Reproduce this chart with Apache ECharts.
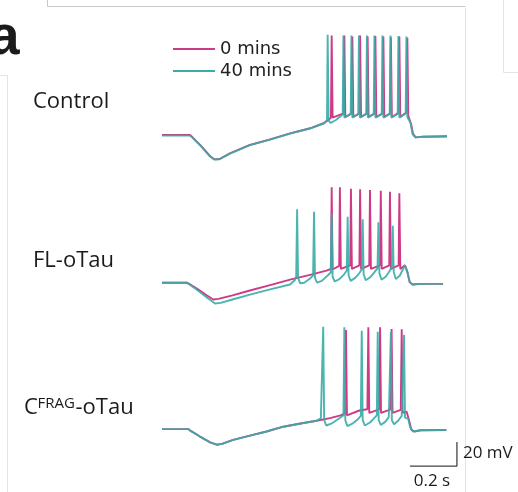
<!DOCTYPE html>
<html><head><meta charset="utf-8">
<script src="https://cdn.jsdelivr.net/npm/echarts@6/dist/echarts.min.js"></script>
<style>html,body{margin:0;padding:0;background:#fff}#c{width:518px;height:492px}</style>
</head><body><div id="c"></div>
<script>
// ---- data (time in ms, membrane potential in mV) ----
const seriesNames = ['0 mins', '40 mins'];
const panelNames = ['Control', 'FL-oTau'];
const fragParts = ['C', 'FRAG', '-oTau'];
const scaleLabels = ['20 mV', '0.2 s'];
const scaleBar = [[1055, -96.3], [1255, -96.3], [1255, -76.3]];

const ctrl0 = [[0,-65],[119,-65],[128,-66.5],[162,-73.3],[204,-82.5],[222,-85.3],[245,-85],[289,-80.3],[374,-73.3],[460,-68.6],[545,-63.6],[630,-59.4],[690,-55],[708,-52.5],[719,-50.5],
[722,18],[726,-50.5],[734,-49.5],[773,-47],
[776,18],[780,-50],[788,-49],[807,-47],
[810,17],[814,-50],[821,-49],[840,-47],
[843,18],[847,-50],[854,-49],[872,-47],
[875,17],[879,-50],[886,-49],[905,-47],
[908,17.5],[912,-50],[919,-49],[939,-47],
[942,17],[946,-50],[953,-49],[971,-47],
[974,16.5],[978,-50],[985,-49],[1007,-46.5],
[1010,17],[1014,-50],[1021,-48.5],[1041,-46],
[1044,16],[1048,-49],[1053,-48],[1060,-56],[1068,-64],[1080,-67],[1110,-66.5],[1213,-66]];

const ctrl40 = [[0,-65.5],[119,-65.5],[128,-67],[162,-73.5],[204,-82.8],[222,-85.5],[245,-85.2],[289,-80.5],[374,-73.5],[460,-68.8],[545,-63.8],[630,-59.6],[690,-55.2],[702,-52.5],
[705,18.5],[709,-53],[718,-55],[740,-52.5],[769,-48],
[772,18],[776,-50.5],[784,-49.5],[803,-47.5],
[806,18],[810,-50.5],[818,-49.5],[835,-47.5],
[838,18],[842,-50.5],[850,-49.5],[869,-47.5],
[872,18],[876,-50.5],[884,-49.5],[901,-47.5],
[904,18],[908,-50.5],[916,-49.5],[935,-47.5],
[938,18],[942,-50.5],[950,-49.5],[969,-47.5],
[972,18],[976,-50.5],[984,-49.5],[1003,-47.5],
[1006,17.5],[1010,-50.5],[1018,-49.5],[1037,-47],
[1040,17],[1044,-50],[1051,-48.5],[1058,-55],[1066,-64],[1078,-67],[1110,-66.5],[1213,-66.3]];

const fl0 = [[0,-65],[105,-65],[115,-66],[150,-70],[190,-75.5],[218,-79],[240,-78.5],[300,-75.5],[374,-71.5],[460,-67],[545,-62.5],[630,-58.5],[700,-55],[719,-53.5],
[722,14.5],[726,-54],[734,-53],[754,-51],
[757,14.5],[761,-53.5],[769,-52.5],[801,-50.5],
[804,13.3],[808,-53.5],[816,-52.5],[840,-50.5],
[843,12.8],[847,-53.5],[855,-52.5],[882,-50.5],
[885,12.3],[889,-53.5],[897,-52.5],[928,-50.5],
[931,11.7],[935,-53.5],[943,-52.5],[967,-50.5],
[970,10.8],[974,-53.5],[982,-52.5],[1007,-50.5],
[1010,9.5],[1014,-53.5],[1022,-52],[1034,-50.5],[1044,-56],[1054,-64.5],[1066,-66.5],[1100,-66],[1196,-66]];

const fl40 = [[0,-65],[105,-65],[115,-66],[150,-71],[195,-78],[226,-82.3],[250,-81.8],[300,-79],[374,-75],[460,-70.5],[545,-66.5],[565,-63],[571,-60],
[575,-3.8],[579,-61],[588,-65.5],[605,-65],[630,-61.5],[643,-59],
[647,-5.8],[651,-61],[660,-65],[680,-63.5],[705,-59],[718,-56.5],
[722,-7.2],[726,-60],[735,-64],[755,-62],[775,-58],[786,-55],
[790,-10],[794,-59],[803,-63.5],[822,-61],[840,-57],[850,-54],
[854,-12.2],[858,-58],[867,-63],[886,-60.5],[905,-56],[917,-53],
[921,-14.7],[925,-57],[934,-62.5],[952,-60],[968,-55.5],[978,-51.5],
[982,-17.5],[986,-56],[995,-62],[1012,-59],[1025,-54],[1034,-50.5],[1044,-56],[1054,-64.5],[1066,-66.5],[1100,-66],[1196,-66]];

const frag0 = [[0,-65.5],[112,-65.5],[122,-67],[160,-71.5],[205,-76.5],[233,-78.5],[255,-77.8],[303,-74.5],[374,-71],[445,-67.5],[516,-63.5],[590,-60.8],[658,-58.5],[715,-56.3],[760,-54],[779,-52.5],
[783,17],[787,-54],[795,-52.5],[840,-50],[874,-49],
[878,19.3],[882,-52],[890,-51],[924,-49],
[928,19.3],[932,-52],[940,-51],[973,-49],
[977,17.9],[981,-52],[989,-51],[1016,-49.5],
[1020,17.7],[1024,-52],[1032,-51],[1041,-51],[1051,-58],[1061,-66],[1075,-67.5],[1100,-66.5],[1210,-66.2]];

const frag40 = [[0,-65.5],[112,-65.5],[122,-67],[160,-71.5],[205,-76.5],[233,-78.5],[255,-77.8],[303,-74.5],[374,-71],[445,-67.5],[516,-63.5],[590,-60.8],[658,-58.5],[676,-56.5],[683,-55],
[686,19.8],[690,-58],[699,-62.5],[720,-61],[755,-56.5],[772,-54],
[776,19.3],[780,-58],[789,-63],[810,-61],[835,-57],[846,-54.5],
[850,16.5],[854,-58],[863,-62.5],[885,-60],[905,-56],[914,-54],
[918,15.7],[922,-58],[931,-62],[950,-59.5],[965,-55.5],[970,-54],
[974,15.4],[978,-58],[987,-61.5],[1005,-58.5],[1020,-54.5],[1026,-53],
[1030,13],[1034,-56],[1042,-55],[1048,-57],[1056,-64],[1068,-67.5],[1100,-66.5],[1210,-66.2]];

// ---- chart ----
const PINK = '#cf3a87', TEAL = '#38aca6';
const panels = [[ctrl0, ctrl40], [fl0, fl40], [frag0, frag40]];
const gridTops = [9, 156.7, 302.5];
const chart = echarts.init(document.getElementById('c'), null, {renderer: 'canvas'});

const grids = gridTops.map(t => ({left: 162, top: t, width: 296.1, height: 168}));
const xAxes = gridTops.map((t, i) => ({type: 'value', gridIndex: i, min: 0, max: 1260, show: false}));
const yAxes = gridTops.map((t, i) => ({type: 'value', gridIndex: i, min: -100, max: 40, show: false}));
const series = [];
panels.forEach((p, i) => {
  series.push({type: 'line', name: seriesNames[0], xAxisIndex: i, yAxisIndex: i, data: p[0], showSymbol: false, symbol: 'none',
    color: PINK, lineStyle: {color: PINK, width: 1.9}, z: 2});
  series.push({type: 'line', name: seriesNames[1], xAxisIndex: i, yAxisIndex: i, data: p[1], showSymbol: false, symbol: 'none',
    color: TEAL, lineStyle: {color: TEAL, width: 1.9, opacity: 0.9}, z: 3});
});
series.push({type: 'line', name: 'scale', xAxisIndex: 2, yAxisIndex: 2, data: scaleBar, showSymbol: false, symbol: 'none',
  lineStyle: {color: '#444', width: 1.3}, silent: true});

const lineStyleA = {stroke: '#c9c9c9', lineWidth: 1};
const lineStyleB = {stroke: '#e3e3e3', lineWidth: 1};
const txt = (text, x, y, font, align) => ({type: 'text', style: {text, x, y, font, fill: '#1b1b1b', textAlign: align || 'left', textVerticalAlign: 'middle'}});

chart.setOption({
  animation: false,
  backgroundColor: '#fff',
  grid: grids, xAxis: xAxes, yAxis: yAxes, series,
  legend: {data: seriesNames, orient: 'vertical', left: 168, top: 35, icon: 'rect', itemWidth: 42, itemHeight: 2, itemGap: 4,
    selectedMode: false, textStyle: {fontFamily: 'DejaVu Sans', fontSize: 18, color: '#222', lineHeight: 18}},
  graphic: [
    {type: 'line', shape: {x1: 47.5, y1: 0, x2: 47.5, y2: 6.5}, style: lineStyleA},
    {type: 'line', shape: {x1: 47.5, y1: 6.5, x2: 465.5, y2: 6.5}, style: lineStyleA},
    {type: 'line', shape: {x1: 465.5, y1: 8, x2: 465.5, y2: 492}, style: lineStyleB},
    {type: 'line', shape: {x1: 503.5, y1: 0, x2: 503.5, y2: 72.5}, style: lineStyleB},
    {type: 'line', shape: {x1: 503.5, y1: 72.5, x2: 518, y2: 72.5}, style: lineStyleB},
    {type: 'line', shape: {x1: 0, y1: 75.5, x2: 7.5, y2: 75.5}, style: lineStyleB},
    {type: 'line', shape: {x1: 7.5, y1: 75.5, x2: 7.5, y2: 492}, style: lineStyleB},
    txt('a', -11, 39, 'bold 55px "Liberation Sans"'),
    txt(panelNames[0], 33, 102, '22px "Open Sans"'),
    txt(panelNames[1], 33, 261, '22px "Open Sans"'),
    txt(fragParts[0], 24, 408, '22px "Open Sans"'),
    txt(fragParts[1], 37.5, 403.5, '15px "Open Sans"'),
    txt(fragParts[2], 75.5, 408, '22px "Open Sans"'),
    txt(scaleLabels[0], 463, 453, '17px "Open Sans"'),
    txt(scaleLabels[1], 432, 481, '17px "Open Sans"', 'center')
  ]
});
</script></body></html>
